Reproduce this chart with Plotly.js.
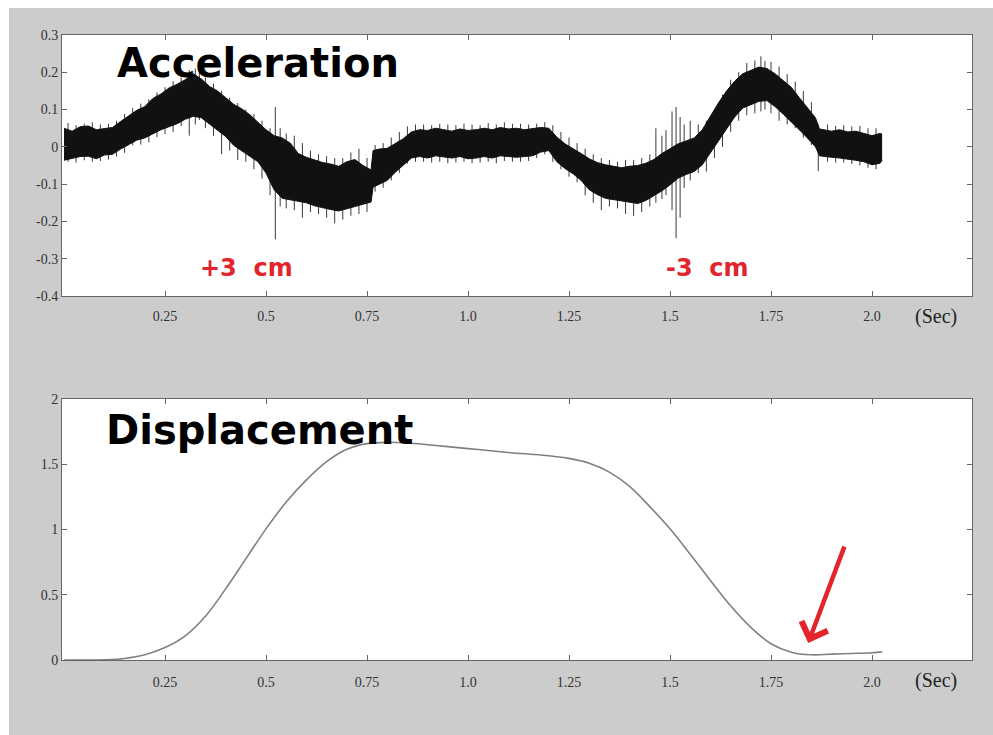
<!DOCTYPE html>
<html>
<head>
<meta charset="utf-8">
<script src="https://cdn.plot.ly/plotly-3.0.1.min.js"></script>
<style>html,body{margin:0;padding:0;background:#fff;}#chart{width:993px;height:735px;}</style>
</head>
<body>
<div id="chart"></div>
<script>
// ---------- Acceleration: noisy band (upper / lower envelope) ----------
const accT = [0.00,0.02,0.04,0.06,0.08,0.10,0.12,0.14,0.16,0.18,0.20,0.22,0.24,0.26,0.28,0.30,0.32,0.34,0.36,0.38,0.40,0.42,0.44,0.46,0.48,0.50,0.52,0.54,0.56,0.58,0.60,0.62,0.64,0.66,0.68,0.70,0.72,0.74,0.76,0.765,0.78,0.80,0.82,0.84,0.86,0.88,0.90,0.92,0.94,0.96,0.98,1.00,1.02,1.04,1.06,1.08,1.10,1.12,1.14,1.16,1.18,1.20,1.22,1.24,1.26,1.28,1.30,1.32,1.34,1.36,1.38,1.40,1.42,1.44,1.46,1.48,1.50,1.52,1.54,1.56,1.58,1.60,1.62,1.64,1.66,1.68,1.70,1.72,1.74,1.76,1.78,1.80,1.82,1.84,1.86,1.87,1.88,1.90,1.92,1.94,1.96,1.98,2.00,2.02,2.025];
const accUpper = [0.050,0.042,0.054,0.056,0.046,0.050,0.052,0.068,0.082,0.098,0.108,0.130,0.142,0.158,0.168,0.180,0.196,0.182,0.162,0.150,0.132,0.114,0.102,0.086,0.066,0.046,0.030,0.024,0.010,-0.018,-0.028,-0.036,-0.042,-0.046,-0.052,-0.040,-0.034,-0.050,-0.062,-0.010,-0.006,-0.004,0.008,0.022,0.040,0.046,0.044,0.050,0.046,0.042,0.048,0.044,0.046,0.050,0.046,0.052,0.048,0.050,0.046,0.048,0.052,0.050,0.026,0.008,-0.004,-0.018,-0.032,-0.042,-0.048,-0.052,-0.056,-0.052,-0.050,-0.044,-0.034,-0.018,-0.006,0.008,0.016,0.024,0.046,0.084,0.118,0.150,0.176,0.196,0.204,0.214,0.210,0.196,0.178,0.160,0.132,0.104,0.078,0.048,0.046,0.042,0.046,0.040,0.042,0.036,0.030,0.036,0.034];
const accLower = [-0.036,-0.030,-0.026,-0.025,-0.032,-0.022,-0.020,-0.006,0.006,0.018,0.024,0.036,0.046,0.054,0.062,0.074,0.082,0.078,0.062,0.044,0.028,0.004,-0.010,-0.024,-0.040,-0.070,-0.115,-0.138,-0.142,-0.146,-0.150,-0.158,-0.164,-0.168,-0.172,-0.166,-0.160,-0.152,-0.148,-0.108,-0.100,-0.090,-0.068,-0.050,-0.030,-0.026,-0.030,-0.024,-0.028,-0.030,-0.026,-0.032,-0.030,-0.026,-0.030,-0.024,-0.026,-0.028,-0.026,-0.024,-0.014,-0.010,-0.040,-0.058,-0.072,-0.090,-0.115,-0.128,-0.138,-0.142,-0.146,-0.150,-0.152,-0.144,-0.132,-0.118,-0.102,-0.084,-0.074,-0.066,-0.048,-0.016,0.018,0.048,0.080,0.104,0.114,0.122,0.124,0.108,0.088,0.068,0.046,0.024,0.000,-0.024,-0.026,-0.028,-0.030,-0.032,-0.036,-0.040,-0.048,-0.044,-0.036];

// ---------- Acceleration: noise whiskers (time, top, bottom) ----------
const spikeT  = [0.01,0.03,0.05,0.07,0.09,0.11,0.13,0.15,0.17,0.19,0.21,0.23,0.25,0.27,0.29,0.31,0.325,0.335,0.35,0.37,0.39,0.41,0.43,0.45,0.47,0.49,0.51,0.523,0.535,0.55,0.57,0.59,0.61,0.63,0.65,0.67,0.69,0.71,0.73,0.75,0.77,0.79,0.81,0.83,0.85,0.87,0.89,0.91,0.93,0.95,0.97,0.99,1.01,1.03,1.05,1.07,1.09,1.11,1.13,1.15,1.17,1.19,1.21,1.23,1.25,1.27,1.29,1.31,1.33,1.35,1.37,1.39,1.41,1.43,1.45,1.465,1.48,1.49,1.505,1.515,1.525,1.535,1.55,1.57,1.59,1.61,1.63,1.65,1.67,1.69,1.71,1.725,1.735,1.75,1.77,1.79,1.81,1.83,1.85,1.867,1.89,1.91,1.93,1.95,1.97,1.99,2.01];
const spikeHi = [0.064,0.058,0.062,0.066,0.060,0.062,0.070,0.088,0.104,0.116,0.128,0.146,0.160,0.176,0.186,0.206,0.210,0.204,0.186,0.170,0.150,0.132,0.118,0.100,0.088,0.070,0.050,0.107,0.050,0.036,0.030,0.010,-0.010,-0.020,-0.025,-0.030,-0.030,-0.015,-0.005,-0.030,0.005,0.010,0.025,0.040,0.055,0.060,0.060,0.058,0.062,0.060,0.058,0.062,0.060,0.058,0.064,0.060,0.066,0.062,0.062,0.060,0.062,0.066,0.058,0.040,0.025,0.010,-0.005,-0.020,-0.030,-0.035,-0.040,-0.035,-0.035,-0.030,-0.020,0.050,0.030,0.045,0.095,0.107,0.080,0.060,0.070,0.060,0.070,0.100,0.140,0.180,0.200,0.225,0.232,0.243,0.230,0.228,0.215,0.195,0.175,0.150,0.120,0.060,0.060,0.056,0.058,0.055,0.056,0.050,0.050];
const spikeLo = [-0.040,-0.042,-0.036,-0.040,-0.038,-0.034,-0.026,-0.016,0.004,0.006,0.012,0.026,0.034,0.040,0.056,0.030,0.060,0.072,0.050,0.030,-0.020,-0.010,-0.035,-0.040,-0.060,-0.085,-0.130,-0.248,-0.160,-0.165,-0.170,-0.190,-0.175,-0.180,-0.190,-0.205,-0.195,-0.185,-0.180,-0.175,-0.120,-0.110,-0.090,-0.070,-0.045,-0.040,-0.040,-0.042,-0.040,-0.044,-0.042,-0.040,-0.044,-0.042,-0.040,-0.044,-0.038,-0.040,-0.040,-0.038,-0.030,-0.020,-0.040,-0.060,-0.080,-0.095,-0.130,-0.150,-0.170,-0.160,-0.165,-0.180,-0.185,-0.175,-0.160,-0.150,-0.140,-0.130,-0.170,-0.245,-0.190,-0.110,-0.090,-0.070,-0.066,-0.030,0.000,0.040,0.070,0.085,0.090,0.095,0.100,0.090,0.070,0.060,0.050,0.025,0.005,-0.065,-0.040,-0.042,-0.042,-0.046,-0.050,-0.056,-0.060];

// ---------- Displacement ----------
const dispT = [0.00,0.05,0.10,0.15,0.20,0.25,0.30,0.35,0.40,0.45,0.50,0.55,0.60,0.65,0.70,0.75,0.80,0.85,0.90,0.95,1.00,1.05,1.10,1.15,1.20,1.25,1.30,1.35,1.40,1.45,1.50,1.55,1.60,1.65,1.70,1.75,1.80,1.85,1.90,1.95,2.00,2.025];
const dispY = [0,0,0.002,0.012,0.040,0.095,0.185,0.335,0.545,0.775,1.005,1.210,1.380,1.520,1.615,1.658,1.668,1.663,1.650,1.635,1.620,1.605,1.590,1.578,1.565,1.545,1.508,1.440,1.330,1.175,1.005,0.810,0.610,0.415,0.250,0.125,0.060,0.040,0.045,0.050,0.056,0.062];

// ---------- Ticks / labels ----------
const xTickVals = [0.25,0.5,0.75,1.0,1.25,1.5,1.75,2.0];
const xTickText = ['0.25','0.5','0.75','1.0','1.25','1.5','1.75','2.0'];
const accTickVals = [0.3,0.2,0.1,0,-0.1,-0.2,-0.3,-0.4];
const accTickText = ['0.3','0.2','0.1','0','-0.1','-0.2','-0.3','-0.4'];
const dispTickVals = [0,0.5,1,1.5,2];
const dispTickText = ['0','0.5','1','1.5','2'];

// build whisker segments from the arrays
const wx = [], wy = [];
for (let i = 0; i < spikeT.length; i++) {
  wx.push(spikeT[i], spikeT[i], null);
  wy.push(spikeLo[i], spikeHi[i], null);
}

const traces = [
  {x: wx, y: wy, xaxis: 'x', yaxis: 'y', mode: 'lines', line: {color: '#3a3a3a', width: 1}, hoverinfo: 'skip', connectgaps: false},
  {x: accT, y: accLower, xaxis: 'x', yaxis: 'y', mode: 'lines', line: {color: '#111', width: 1}, hoverinfo: 'skip'},
  {x: accT, y: accUpper, xaxis: 'x', yaxis: 'y', mode: 'lines', line: {color: '#111', width: 1}, fill: 'tonexty', fillcolor: '#111', hoverinfo: 'skip'},
  {x: dispT, y: dispY, xaxis: 'x2', yaxis: 'y2', mode: 'lines', line: {color: '#808080', width: 1.6, shape: 'spline', smoothing: 1}}
];

const tickFont = {family: 'Liberation Serif, serif', size: 14, color: '#333'};
const common = {
  showline: true, linecolor: '#666', linewidth: 1, mirror: 'ticks',
  ticks: 'inside', ticklen: 5, tickcolor: '#666', tickwidth: 1,
  showgrid: false, zeroline: false, tickfont: tickFont, fixedrange: true
};

const W = 910, H = 625, L = 62, T = 35;
const px = v => (v - L) / W;          // pixel x -> paper
const py = v => (T + H - v) / H;      // pixel y -> paper

const layout = {
  width: 993, height: 735,
  margin: {l: 62, r: 21, t: 35, b: 75},
  paper_bgcolor: '#cccccc', plot_bgcolor: '#ffffff',
  showlegend: false,
  xaxis: Object.assign({}, common, {domain: [0, 1], anchor: 'y', range: [-0.005, 2.2475], tickvals: xTickVals, ticktext: xTickText, ticklabelstandoff: 7}),
  yaxis: Object.assign({}, common, {domain: [0.5824, 1], anchor: 'x', range: [-0.4, 0.3], tickvals: accTickVals, ticktext: accTickText}),
  xaxis2: Object.assign({}, common, {domain: [0, 1], anchor: 'y2', range: [-0.005, 2.2475], tickvals: xTickVals, ticktext: xTickText, ticklabelstandoff: 9}),
  yaxis2: Object.assign({}, common, {domain: [0, 0.4176], anchor: 'x2', range: [0, 2], tickvals: dispTickVals, ticktext: dispTickText}),
  shapes: [
    {type: 'rect', xref: 'paper', yref: 'paper', x0: px(-5), x1: px(9), y0: py(800), y1: py(-5), fillcolor: '#ffffff', line: {width: 0}, layer: 'below'},
    {type: 'rect', xref: 'paper', yref: 'paper', x0: px(-5), x1: px(1000), y0: py(8), y1: py(-5), fillcolor: '#ffffff', line: {width: 0}, layer: 'below'}
  ],
  annotations: [
    {text: 'Acceleration', xref: 'paper', yref: 'paper', x: px(115), y: py(63), xanchor: 'left', yanchor: 'middle', showarrow: false, font: {family: 'DejaVu Sans', size: 40, color: '#000', weight: 'bold'}},
    {text: 'Displacement', xref: 'paper', yref: 'paper', x: px(104), y: py(430), xanchor: 'left', yanchor: 'middle', showarrow: false, font: {family: 'DejaVu Sans', size: 40, color: '#000', weight: 'bold'}},
    {text: '+3\u00a0\u00a0cm', xref: 'paper', yref: 'paper', x: px(246), y: py(268), xanchor: 'center', yanchor: 'middle', showarrow: false, font: {family: 'DejaVu Sans', size: 24, color: '#e3242b', weight: 'bold'}},
    {text: '-3\u00a0\u00a0cm', xref: 'paper', yref: 'paper', x: px(707), y: py(268), xanchor: 'center', yanchor: 'middle', showarrow: false, font: {family: 'DejaVu Sans', size: 24, color: '#e3242b', weight: 'bold'}},
    {text: '(Sec)', xref: 'paper', yref: 'paper', x: px(936), y: py(316), xanchor: 'center', yanchor: 'middle', showarrow: false, font: {family: 'Liberation Serif, serif', size: 20, color: '#222'}},
    {text: '(Sec)', xref: 'paper', yref: 'paper', x: px(936), y: py(680), xanchor: 'center', yanchor: 'middle', showarrow: false, font: {family: 'Liberation Serif, serif', size: 20, color: '#222'}},
    {text: '', xref: 'x2', yref: 'y2', x: 1.842, y: 0.13, axref: 'x2', ayref: 'y2', ax: 1.933, ay: 0.88, showarrow: true, arrowhead: 4, arrowsize: 1.2, arrowwidth: 4.5, arrowcolor: '#e3242b'}
  ]
};

Plotly.newPlot('chart', traces, layout, {staticPlot: true, displayModeBar: false});
</script>
</body>
</html>
